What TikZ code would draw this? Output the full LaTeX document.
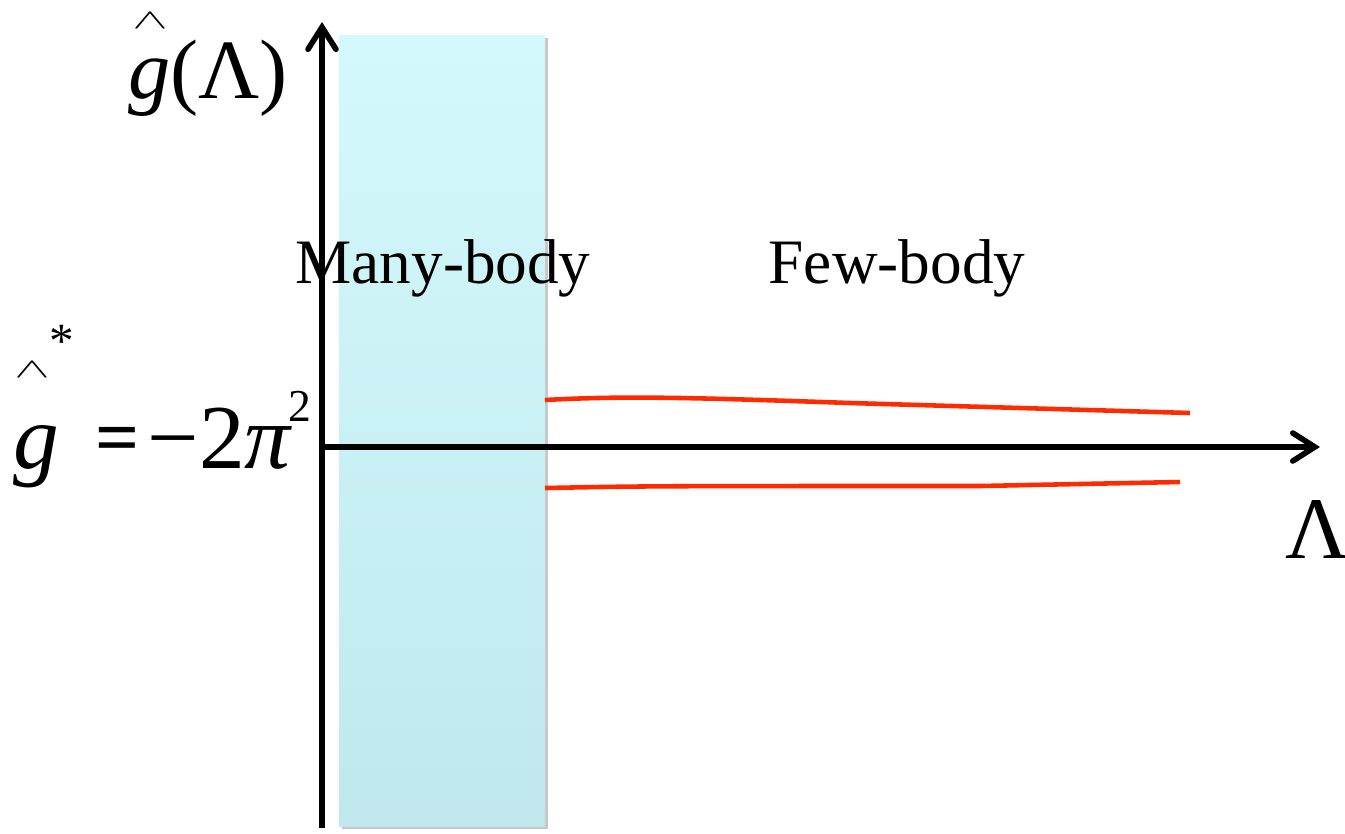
\documentclass[tikz,border=0pt]{standalone}
\usepackage{fontspec}
\setmainfont{Liberation Serif}
\usepackage{tikz}
\usetikzlibrary{arrows.meta,positioning,calc}

\definecolor{bandtop}{HTML}{D4F9FD}
\definecolor{bandbot}{HTML}{C0E8EC}
\definecolor{flowred}{HTML}{FF2A00}

\newcommand{\flathat}{\scalebox{1.05}[0.55]{$\wedge$}}

\begin{document}
\begin{tikzpicture}[
  axis/.style={line width=1.6pt, -{Straight Barb[length=2.2mm, width=2.8mm, line cap=round]}},
  flow/.style={line width=1.3pt, flowred},
  region/.style={font=\fontsize{18}{22}\selectfont, anchor=base},
  hat/.style={font=\fontsize{15}{16}\selectfont, inner sep=0pt},
  big/.style={font=\fontsize{26}{30}\selectfont, inner sep=0pt, anchor=base west}
]
\useasboundingbox (0,0) rectangle (13.45,8.33);

% band for the many-body regime
\fill[black!22] (3.42,0.04) rectangle (5.48,7.95);
\shade[top color=bandtop, bottom color=bandbot] (3.39,0.07) rectangle (5.45,7.98);

% axes
\coordinate (ybot) at (3.22,0.05);
\coordinate (ytop) at (3.22,8.11);
\coordinate (xleft) at (3.22,3.86);
\coordinate (xright) at (13.20,3.86);
\draw[axis] (ybot) -- (ytop);
\draw[axis] (xleft) -- (xright);

% flow lines
\coordinate (up0) at (5.45,4.33);
\coordinate (up1) at (11.90,4.20);
\coordinate (lo0) at (5.45,3.45);
\coordinate (lo1) at (11.80,3.51);
\draw[flow] (up0) .. controls (6.2,4.37) and (6.8,4.36) .. (8.5,4.30) -- (up1);
\draw[flow] (lo0) .. controls (6.5,3.47) .. (9.8,3.47) -- (lo1);

% labels
\node[region] (many) at (4.43,5.50) {Many-body};
\node[region] (few) at (8.97,5.50) {Few-body};

\node[font=\fontsize{24}{28}\selectfont, inner sep=0pt, anchor=base] (gl) at (2.08,7.35) {\itshape g\upshape(Λ)};
\node[hat] (glhat) at (1.50,8.12) {\flathat};

\node[font=\fontsize{25}{28}\selectfont, inner sep=0pt, anchor=base] (lam) at (13.17,2.75) {Λ};

\node[big] (gs) at (0.13,3.65) {\itshape g};
\node[hat] (gshat) at (0.32,4.63) {\flathat};
\node[font=\fontsize{14}{16}\selectfont, inner sep=0pt] (gsstar) at (0.62,4.92) {*};
\node[font=\fontsize{22}{26}\selectfont\bfseries, inner sep=0pt, anchor=base] (eq) at (1.18,3.70) {=};
\node[big] (val) at (1.47,3.65) {−2\itshape π};
\node[font=\fontsize{13}{15}\selectfont, inner sep=0pt, anchor=base west] (sq) at (2.88,4.12) {2};
\end{tikzpicture}
\end{document}
